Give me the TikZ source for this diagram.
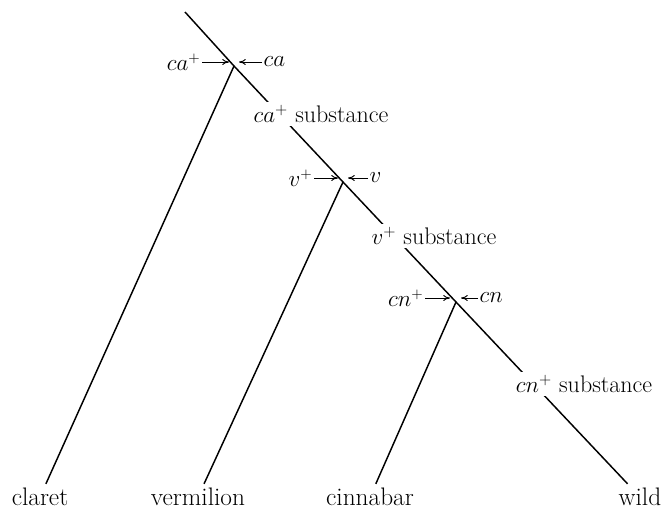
\documentclass[tikz,border=0pt]{standalone}
\usepackage{amsmath}
\usepackage{tikz}
\usetikzlibrary{arrows.meta, positioning}

\begin{document}
\begin{tikzpicture}[
    x=0.75pt, y=-0.75pt,
    >={To[length=1.8mm, width=1.6mm]},
    path/.style={line width=1.1pt},
    arr/.style={->, line width=0.7pt},
    gene/.style={inner sep=1pt, font=\fontsize{16}{19}\selectfont},
    product/.style={fill=white, inner sep=2pt, font=\fontsize{18}{21}\selectfont},
    eye/.style={inner sep=3pt, font=\fontsize{19}{22}\selectfont},
]
    \useasboundingbox (0,0) rectangle (665,511);

    % Pathway points
    \coordinate (start) at (185,12);
    \coordinate (jca) at (234,66);
    \coordinate (jv) at (343,182);
    \coordinate (jcn) at (456,302);

    % Eye colours
    \node[eye] (claret) at (40,497) {claret};
    \node[eye] (vermilion) at (198,497) {vermilion};
    \node[eye] (cinnabar) at (370,497) {cinnabar};
    \node[eye] (wild) at (640,497) {wild};

    % Main line and branches
    \draw[path] (start) -- (jca) -- (jv) -- (jcn) -- (wild);
    \draw[path] (jca) -- (claret);
    \draw[path] (jv) -- (vermilion);
    \draw[path] (jcn) -- (cinnabar);

    % Substances
    \node[product] (subca) at (321,114) {$ca^{+}$ substance};
    \node[product] (subv) at (434,236) {$v^{+}$ substance};
    \node[product] (subcn) at (584,384) {$cn^{+}$ substance};

    % Genes acting at each step
    \node[gene, anchor=east] (caP) at (202,62) {$ca^{+}$};
    \node[gene, anchor=west] (caM) at (262,62) {$ca$};
    \coordinate (caL) at (229,62);
    \coordinate (caR) at (239,62);
    \draw[arr] (caP) -- (caL);
    \draw[arr] (caM) -- (caR);

    \node[gene, anchor=east] (vP) at (314,178) {$v^{+}$};
    \node[gene, anchor=west] (vM) at (368,178) {$v$};
    \coordinate (vL) at (338,178);
    \coordinate (vR) at (348,178);
    \draw[arr] (vP) -- (vL);
    \draw[arr] (vM) -- (vR);

    \node[gene, anchor=east] (cnP) at (425,298) {$cn^{+}$};
    \node[gene, anchor=west] (cnM) at (478,298) {$cn$};
    \coordinate (cnL) at (450,298);
    \coordinate (cnR) at (461,298);
    \draw[arr] (cnP) -- (cnL);
    \draw[arr] (cnM) -- (cnR);
\end{tikzpicture}
\end{document}
